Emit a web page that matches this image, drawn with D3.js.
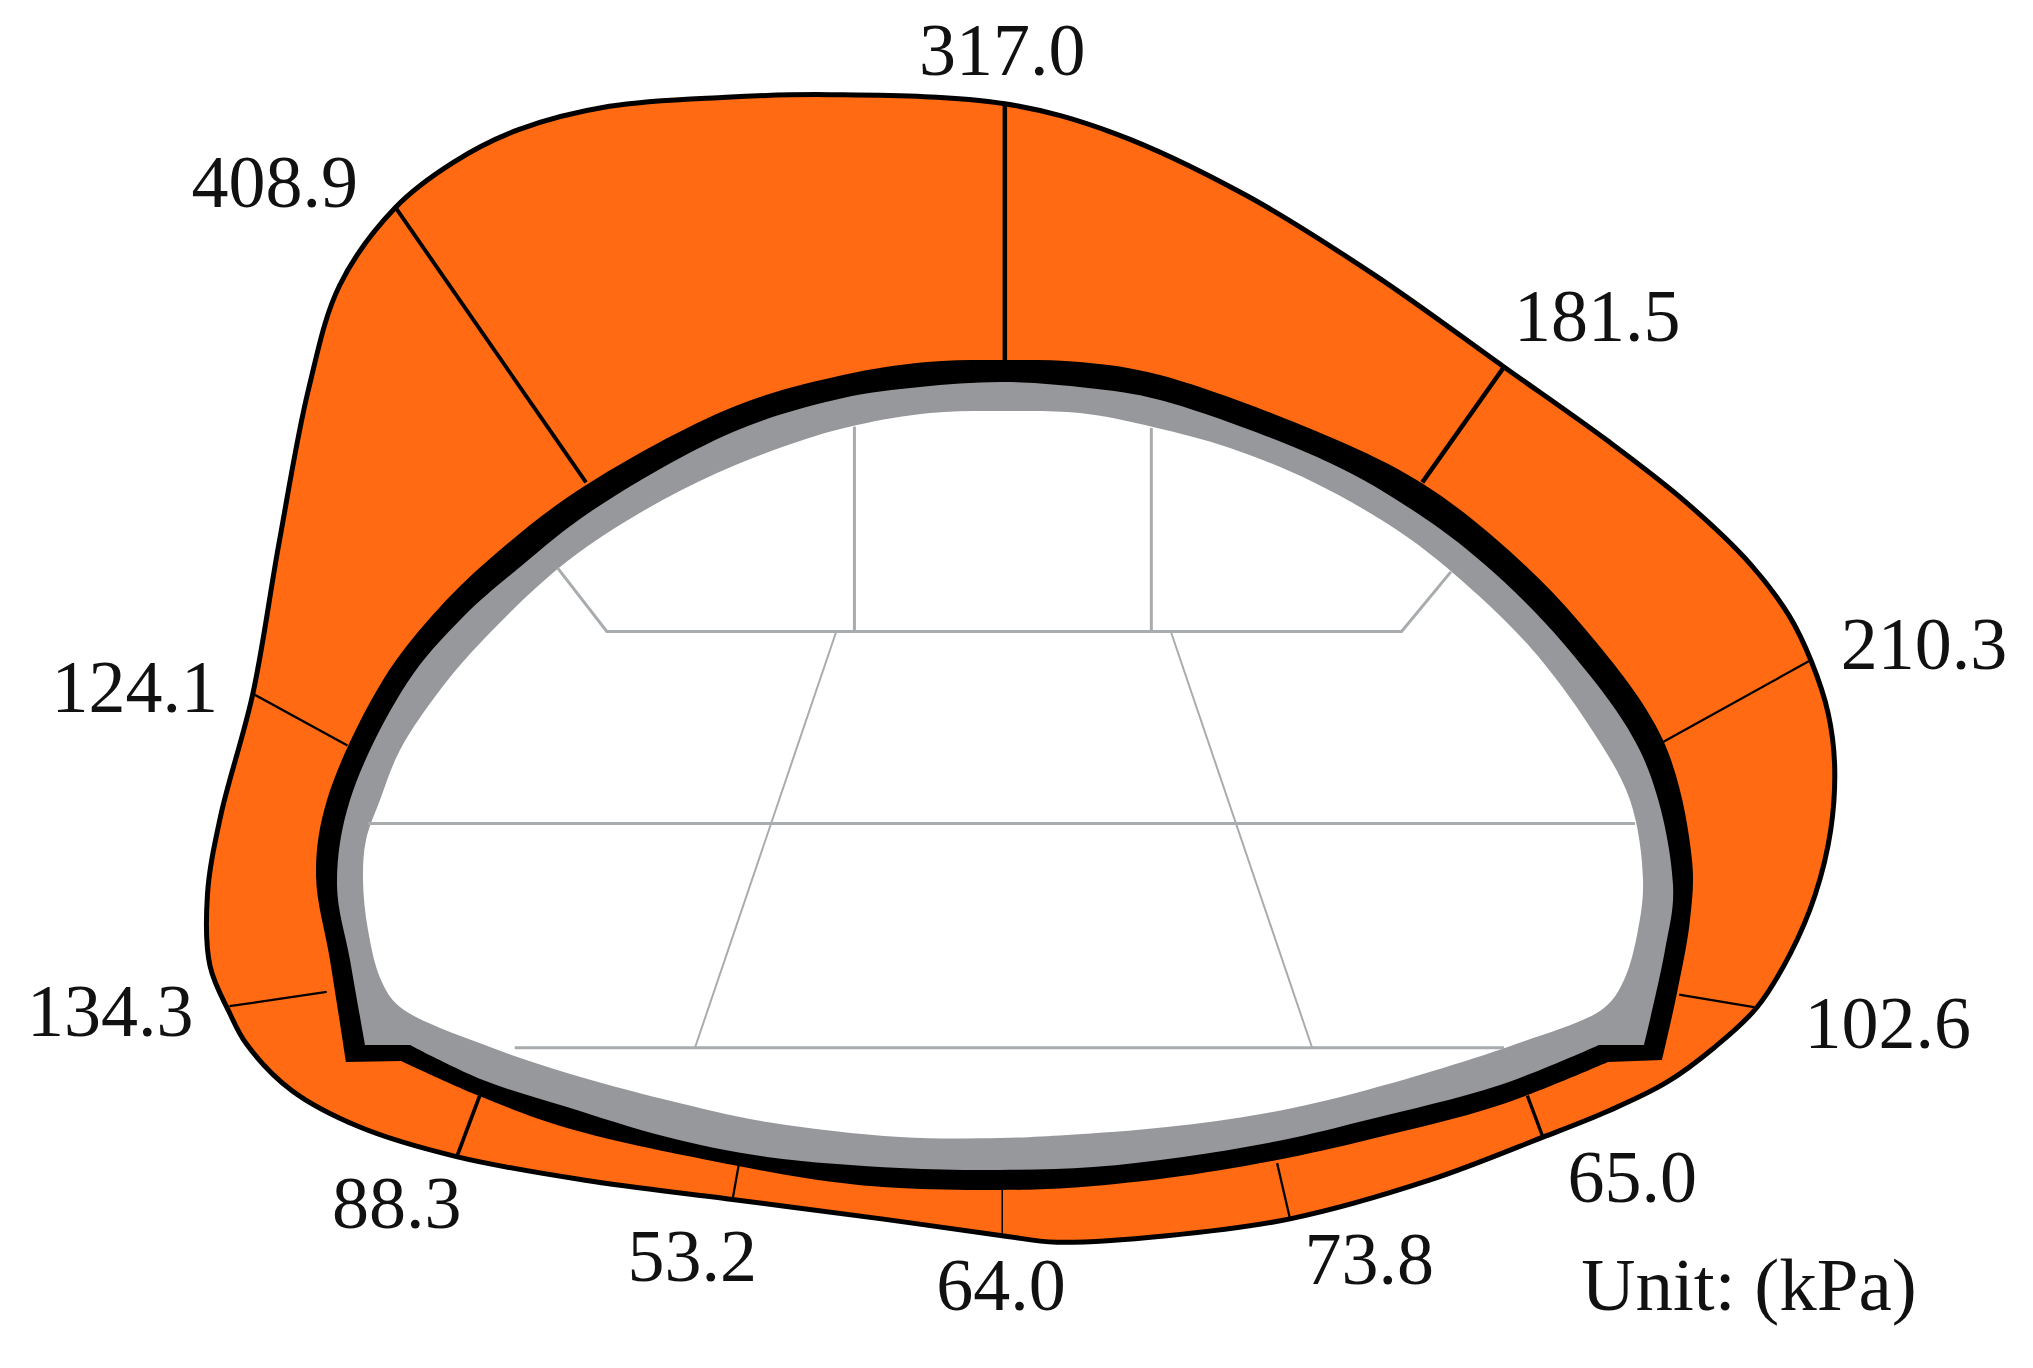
<!DOCTYPE html>
<html>
<head>
<meta charset="utf-8">
<script src="https://cdn.jsdelivr.net/npm/d3@7"></script>
<style>
  html, body { margin: 0; background: #fff; }
  svg { display: block; }
  text { font-family: "Liberation Serif", serif; fill: #111; }
</style>
</head>
<body>
<div id="chart"></div>
<script>
// in overview units (1568 x 1055)
const pressures = ['317.0', '181.5', '210.3', '102.6', '65.0', '73.8', '64.0', '53.2', '88.3', '134.3', '124.1', '408.9']
const unitLabel = 'Unit: (kPa)'

const stationInner = [[775, 280], [1097, 372], [1283, 572], [1295, 767], [1178, 845], [985, 897],
                      [773, 915], [570, 897], [370, 845], [252, 765], [268, 575], [452, 372]]
const stationOuter = [[775, 80], [1160, 283], [1395, 510], [1355, 777], [1190, 877], [995, 940],
                      [773, 953], [565, 925], [352, 893], [177, 776], [195, 535], [305, 160]]
const stationWeight = [3, 3, 1.5, 1.5, 2.2, 1.5, 1, 1.5, 2.5, 1.5, 1.5, 2.6]
const labelAt = [[773, 58], [1232, 263], [1484, 516], [1456, 808], [1259, 927], [1056, 990],
                 [772, 1010], [534, 988], [306, 947], [85, 799], [104, 549], [212, 160]]
const unitAt = [1349, 1010]

const envelope = [[640, 73], [775, 80], [860, 103], [960, 150], [1060, 212], [1160, 283],
  [1240, 340], [1300, 387], [1350, 435], [1380, 475], [1397, 510], [1410, 550], [1415, 590], [1412, 640],
  [1400, 690], [1381, 735], [1355, 777], [1322, 808], [1285, 835], [1240, 857], [1190, 877], [1103, 910],
  [995, 940], [900, 953], [815, 958], [773, 953], [680, 940], [565, 925], [450, 910], [352, 892], [277, 869],
  [225, 841], [190, 805], [177, 781], [162, 745], [160, 690], [170, 630], [195, 535], [215, 420],
  [238, 300], [262, 220], [305, 160], [350, 125], [400, 100], [470, 82], [560, 75]]

// excavation sequence lines inside the opening
const benchLines = [
  [[430, 438], [468, 487], [1081, 487], [1119, 441]],
  [[659, 329], [659, 487]],
  [[888, 330], [888, 487]],
  [[645, 487], [536, 808]],
  [[903, 487], [1012, 808]],
  [[284, 635], [1261, 635]],
  [[397, 808], [1160, 808]]
]
const benchWeight = [3, 3, 3, 2, 2, 3, 3]

const blackArch = [[346, 1062], [330, 960], [316, 875], [327, 800], [383, 680], [440, 607], [500, 550], [583, 487],
  [733, 407], [843, 375], [927, 362], [1007, 360], [1080, 362], [1160, 375], [1330, 437], [1420, 482],
  [1497, 540], [1580, 623], [1663, 740], [1692, 860], [1690, 920], [1677, 993], [1662, 1060]]
const blackInvert = [[1608, 1062], [1500, 1105], [1367, 1140], [1277, 1160], [1167, 1178], [1067, 1188],
  [1000, 1190], [900, 1188], [833, 1182], [733, 1165], [567, 1128], [477, 1095], [401, 1061]]
const grayArch = [[365, 1045], [350, 960], [337, 885], [350, 800], [407, 683], [463, 617], [520, 567], [593, 510],
  [733, 432], [843, 398], [920, 387], [1003, 382], [1088, 388], [1160, 400], [1330, 463], [1417, 513],
  [1483, 563], [1563, 643], [1643, 757], [1673, 885], [1665, 950], [1644, 1045]]
const grayInvert = [[1599, 1045], [1500, 1085], [1367, 1120], [1283, 1140], [1183, 1157], [1093, 1167],
  [1000, 1170], [900, 1168], [767, 1157], [667, 1137], [567, 1107], [483, 1080], [410, 1045]]
const opening = [[380, 800], [366, 840], [363, 880], [368, 930], [381, 980], [400, 1007], [490, 1047],
  [567, 1073], [667, 1100], [767, 1122], [900, 1137], [1000, 1138], [1067, 1135], [1167, 1127], [1267, 1113],
  [1367, 1090], [1519, 1043], [1604, 1008], [1624, 980], [1638, 930], [1643, 880], [1630, 800], [1590, 727],
  [1530, 647], [1453, 573], [1397, 530], [1313, 482], [1230, 448], [1153, 427], [1080, 413], [1003, 411],
  [930, 413], [857, 425], [800, 441], [717, 473], [633, 517], [560, 567], [483, 640], [440, 690], [400, 750]]

const width = 2033,
      height = 1368

const xScale = d3.scaleLinear().domain([0, 1568]).range([0, width])
const yScale = d3.scaleLinear().domain([0, 1055]).range([0, height])
const xFull = d3.scaleLinear().domain([0, 2033]).range([0, width])
const yFull = d3.scaleLinear().domain([0, 1368]).range([0, height])

const closedLine = d3.line()
  .x(d => xScale(d[0]))
  .y(d => yScale(d[1]))
  .curve(d3.curveCatmullRomClosed.alpha(0.5))

const straightLine = d3.line()
  .x(d => xScale(d[0]))
  .y(d => yScale(d[1]))

const openFull = d3.line()
  .x(d => xFull(d[0]))
  .y(d => yFull(d[1]))
  .curve(d3.curveCatmullRom.alpha(0.5))

const closedFull = d3.line()
  .x(d => xFull(d[0]))
  .y(d => yFull(d[1]))
  .curve(d3.curveCatmullRomClosed.alpha(0.5))

// two smooth runs with sharp corners where they meet
const liningPath = (arch, invert) => openFull(arch) + 'L' + openFull(invert).slice(1) + 'Z'

const svg = d3.select('#chart').append('svg')
  .attr('width', width)
  .attr('height', height)

svg.append('path').classed('envelope', true)
  .attr('d', closedLine(envelope))
  .style('fill', '#ff6a13')
  .style('stroke', '#000')
  .style('stroke-width', 5)

svg.append('g').classed('stations', true)
  .selectAll('line')
  .data(pressures).enter()
  .append('line')
  .attr('x1', (d, i) => xScale(stationInner[i][0]))
  .attr('y1', (d, i) => yScale(stationInner[i][1]))
  .attr('x2', (d, i) => xScale(stationOuter[i][0]))
  .attr('y2', (d, i) => yScale(stationOuter[i][1]))
  .style('stroke', '#000')
  .style('stroke-width', (d, i) => stationWeight[i] * 1.5)

svg.append('path').classed('lining-outer', true)
  .attr('d', liningPath(blackArch, blackInvert))
  .style('fill', '#000')

svg.append('path').classed('lining-inner', true)
  .attr('d', liningPath(grayArch, grayInvert))
  .style('fill', '#97989c')

svg.append('path').classed('opening', true)
  .attr('d', closedFull(opening))
  .style('fill', '#fff')

svg.append('g').classed('bench-lines', true)
  .selectAll('path')
  .data(benchLines).enter()
  .append('path')
  .attr('d', d => straightLine(d))
  .style('fill', 'none')
  .style('stroke', '#a9acae')
  .style('stroke-width', (d, i) => benchWeight[i])

svg.append('g').classed('labels', true)
  .selectAll('text')
  .data(pressures).enter()
  .append('text')
  .attr('x', (d, i) => xScale(labelAt[i][0]))
  .attr('y', (d, i) => yScale(labelAt[i][1]))
  .attr('text-anchor', 'middle')
  .style('font-size', '74px')
  .text(d => d)

svg.append('text').classed('unit', true)
  .attr('x', xScale(unitAt[0]))
  .attr('y', yScale(unitAt[1]))
  .attr('text-anchor', 'middle')
  .style('font-size', '75px')
  .text(unitLabel)
</script>
</body>
</html>
